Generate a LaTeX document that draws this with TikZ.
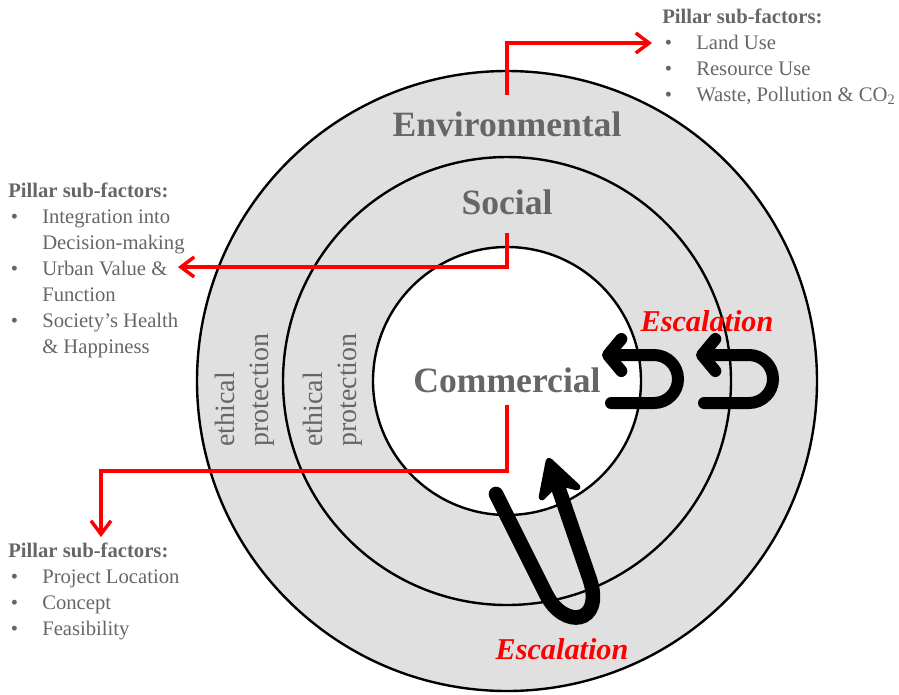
\documentclass[tikz,border=0pt]{standalone}
\usepackage{fontspec}
\setmainfont{Liberation Serif}
\usetikzlibrary{arrows.meta}
\definecolor{ringgray}{RGB}{224,224,224}
\definecolor{textgray}{RGB}{102,102,102}
\definecolor{pillarred}{RGB}{255,0,0}
\newcommand{\pitem}[1]{\makebox[25.5pt][l]{\hspace{2pt}\textbullet}#1}
\newcommand{\pcont}[1]{\hspace*{25.5pt}#1}
\tikzset{
  ring/.style={draw=black, line width=1.8pt},
  pillar/.style={font=\fontsize{26.7}{32}\selectfont\bfseries, text=textgray, inner sep=0pt, anchor=base},
  sublist/.style={font=\fontsize{15.5}{19.5}\selectfont, text=textgray, align=left, inner sep=0pt, anchor=north west},
  ethic/.style={font=\fontsize{21}{25.5}\selectfont, text=textgray, align=left, rotate=90, inner sep=0pt},
  redlink/.style={draw=pillarred, line width=2.6pt, -{Straight Barb[length=10pt,width=15pt]}},
  escal/.style={font=\fontsize{22.7}{27}\selectfont\bfseries\itshape, text=pillarred, anchor=base, inner sep=0pt},
  uturn/.style={draw=black, line width=9pt, line cap=round, -{Straight Barb[length=10pt,width=24pt,round]}},
  bigturn/.style={draw=black, line width=11pt, line cap=round},
  bighead/.style={draw=black, fill=black, line width=5pt, line join=round},
}
\begin{document}
\begin{tikzpicture}[x=0.75pt,y=0.75pt,yscale=-1,xscale=1]
\useasboundingbox (0,0) rectangle (899,694);

%Shape: Circles
\draw[ring, fill=ringgray] (507,381) circle[radius=310];
\draw[ring, fill=ringgray] (507,381) circle[radius=224];
\draw[ring, fill=white] (507,381) circle[radius=134];

% Text Node
\node[pillar] (env) at (507,136) {Environmental};
% Text Node
\node[pillar] (soc) at (507,214) {Social};
% Text Node
\node[pillar] (com) at (507,392) {Commercial};
% Text Node
\node[ethic] (ethout) at (245,390) {ethical\\protection};
% Text Node
\node[ethic] (ethmid) at (333,390) {ethical\\protection};

% Text Node
\node[sublist] (envlist) at (662,9) {\textbf{Pillar sub-factors:}\\
  \pitem{Land Use}\\
  \pitem{Resource Use}\\
  \pitem{Waste, Pollution \& CO\textsubscript{2}}};
% Text Node
\node[sublist] (soclist) at (8,183) {\textbf{Pillar sub-factors:}\\
  \pitem{Integration into}\\
  \pcont{Decision-making}\\
  \pitem{Urban Value \&}\\
  \pcont{Function}\\
  \pitem{Society’s Health}\\
  \pcont{\& Happiness}};
% Text Node
\node[sublist] (comlist) at (8,543) {\textbf{Pillar sub-factors:}\\
  \pitem{Project Location}\\
  \pitem{Concept}\\
  \pitem{Feasibility}};

%Straight Lines
\coordinate (envout) at (507,95);
\coordinate (envend) at (652,43);
\coordinate (socout) at (507,233);
\coordinate (socend) at (178,267);
\coordinate (comout) at (507,405);
\coordinate (combend) at (507,471);
\coordinate (comend) at (101,537);
\draw[redlink] (envout) |- (envend);
\draw[redlink] (socout) |- (socend);
\draw[redlink] (comout) -- (combend) -| (comend);

%Shape: U-turn arrows
\coordinate (uonestart) at (611,403);
\coordinate (uonetip) at (602,355);
\coordinate (utwostart) at (704,403);
\coordinate (utwotip) at (696,355);
\coordinate (ubotstart) at (496,494);
\coordinate (ubotend) at (555,478);
\coordinate (ubottip) at (549,461);
\draw[uturn] (uonestart) -- (654,403) arc[start angle=90, end angle=-90, radius=24] -- (uonetip);
\draw[uturn] (utwostart) -- (749,403) arc[start angle=90, end angle=-90, radius=24] -- (utwotip);
\draw[bigturn] (ubotstart) -- (546,594) .. controls (564,630) and (604,624) .. (590,580) -- (ubotend);
\draw[bighead] (ubottip) -- (577,487) -- (557,482) -- (542,497) -- cycle;

% Text Node
\node[escal] (escright) at (707,331) {Escalation};
% Text Node
\node[escal] (escbot) at (562,659) {Escalation};

\end{tikzpicture}
\end{document}
